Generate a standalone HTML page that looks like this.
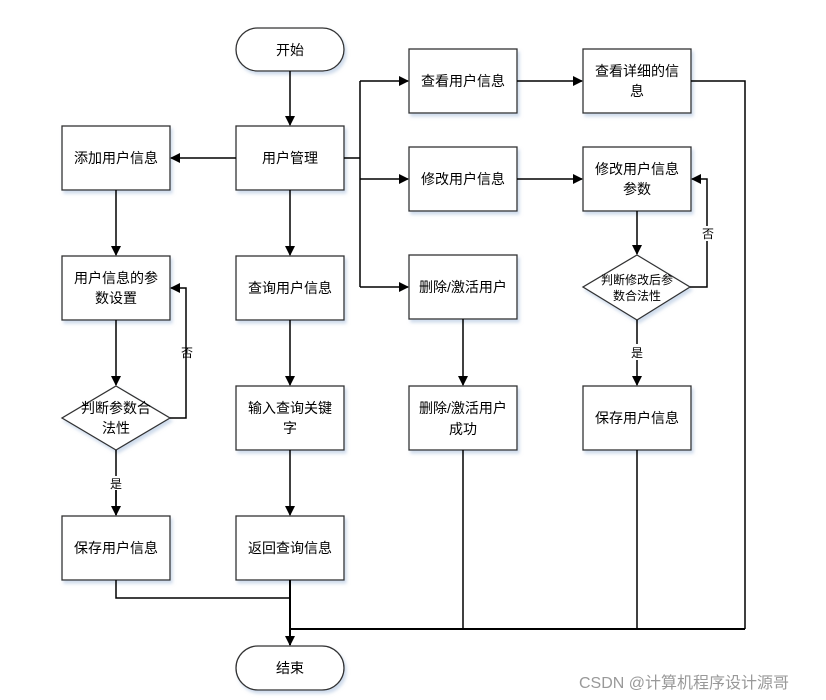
<!DOCTYPE html>
<html><head><meta charset="utf-8"><style>
html,body{margin:0;padding:0;background:#fff;}
svg{display:block;}
text{font-family:"Liberation Sans","Noto Sans CJK SC",sans-serif;fill:#000;text-anchor:middle;}
</style></head><body>
<svg width="826" height="700" viewBox="0 0 826 700" xmlns="http://www.w3.org/2000/svg">
<defs>
<marker id="a" markerWidth="10" markerHeight="10" refX="9" refY="5" orient="auto" markerUnits="userSpaceOnUse">
<path d="M0,0 L10,5 L0,10 z" fill="#000"/></marker>
<filter id="s" x="-10%" y="-10%" width="125%" height="130%"><feDropShadow dx="2" dy="3" stdDeviation="1.5" flood-color="#9fb8d8" flood-opacity="0.5"/></filter>
</defs>
<g fill="#fff" stroke="#333" stroke-width="1.3" filter="url(#s)">
<rect x="236" y="28" width="108" height="43" rx="21.5"/>
<rect x="236" y="126" width="108" height="64"/>
<rect x="62" y="126" width="108" height="64"/>
<rect x="62" y="256" width="108" height="64"/>
<polygon points="116,386 170,418 116,450 62,418"/>
<rect x="62" y="516" width="108" height="64"/>
<rect x="236" y="256" width="108" height="64"/>
<rect x="236" y="386" width="108" height="64"/>
<rect x="236" y="516" width="108" height="64"/>
<rect x="236" y="646" width="108" height="44" rx="22"/>
<rect x="409" y="49" width="108" height="64"/>
<rect x="409" y="147" width="108" height="64"/>
<rect x="409" y="255" width="108" height="64"/>
<rect x="409" y="386" width="108" height="64"/>
<rect x="583" y="49" width="108" height="64"/>
<rect x="583" y="147" width="108" height="64"/>
<polygon points="637,255 690,287 637,320 583,287"/>
<rect x="583" y="386" width="108" height="64"/>
</g>
<g stroke="#000" stroke-width="1.5" fill="none">
<path d="M290,71 V125" marker-end="url(#a)"/>
<path d="M236,158 H171" marker-end="url(#a)"/>
<path d="M116,190 V255" marker-end="url(#a)"/>
<path d="M116,320 V385" marker-end="url(#a)"/>
<path d="M116,450 V476 M116,490 V515" />
<path d="M116,490 V515" marker-end="url(#a)"/>
<path d="M170,418 H186 V288 H171" marker-end="url(#a)"/>
<path d="M290,190 V255" marker-end="url(#a)"/>
<path d="M290,320 V385" marker-end="url(#a)"/>
<path d="M290,450 V515" marker-end="url(#a)"/>
<path d="M290,580 V645" stroke-width="2" marker-end="url(#a)"/>
<path d="M116,580 V598 H290"/>
<path d="M344,158 H360"/>
<path d="M360,81 V287"/>
<path d="M360,81 H408" marker-end="url(#a)"/>
<path d="M360,179 H408" marker-end="url(#a)"/>
<path d="M360,287 H408" marker-end="url(#a)"/>
<path d="M517,81 H582" marker-end="url(#a)"/>
<path d="M517,179 H582" marker-end="url(#a)"/>
<path d="M463,319 V385" marker-end="url(#a)"/>
<path d="M637,211 V254" marker-end="url(#a)"/>
<path d="M637,320 V344 M637,360 V385" marker-end="url(#a)"/>
<path d="M690,287 H707 V241 M707,226 V179 H692" marker-end="url(#a)"/>
<path d="M691,81 H745 V629"/>
<path d="M290,629 H745" stroke-width="2"/>
<path d="M463,450 V629"/>
<path d="M637,450 V629"/>
<path d="M186,344 V360" stroke="none"/>
</g>
<g font-size="14">
<text x="290" y="55">开始</text>
<text x="290" y="163">用户管理</text>
<text x="116" y="163">添加用户信息</text>
<text x="116" y="283">用户信息的参</text>
<text x="116" y="303">数设置</text>
<text x="116" y="413">判断参数合</text>
<text x="116" y="433">法性</text>
<text x="116" y="553">保存用户信息</text>
<text x="290" y="293">查询用户信息</text>
<text x="290" y="413">输入查询关键</text>
<text x="290" y="433">字</text>
<text x="290" y="553">返回查询信息</text>
<text x="290" y="673">结束</text>
<text x="463" y="86">查看用户信息</text>
<text x="463" y="184">修改用户信息</text>
<text x="463" y="292">删除/激活用户</text>
<text x="463" y="413">删除/激活用户</text>
<text x="463" y="434">成功</text>
<text x="637" y="76">查看详细的信</text>
<text x="637" y="96">息</text>
<text x="637" y="174">修改用户信息</text>
<text x="637" y="194">参数</text>
<text x="637" y="423">保存用户信息</text>
</g>
<g font-size="12">
<text x="637" y="284">判断修改后参</text>
<text x="637" y="300">数合法性</text>
<text x="187" y="357">否</text>
<text x="116" y="488">是</text>
<text x="637" y="357">是</text>
<text x="708" y="238">否</text>
</g>
<text x="684" y="688" font-size="16" style="fill:#999">CSDN @计算机程序设计源哥</text>
</svg>
</body></html>
